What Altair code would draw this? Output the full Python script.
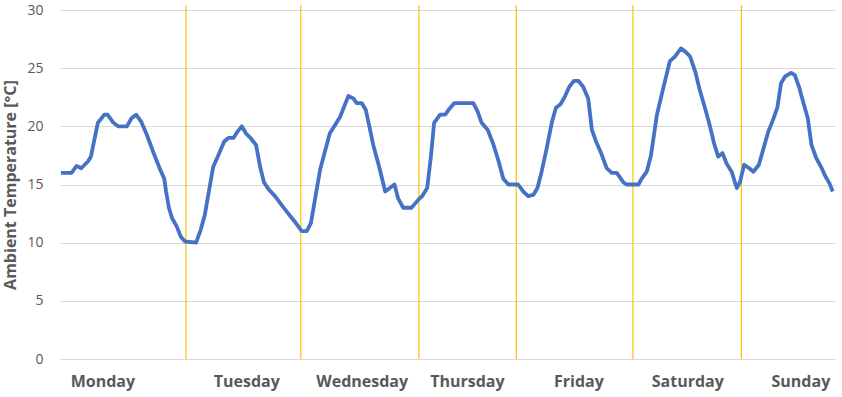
import altair as alt
import pandas as pd

# hour of week (0-168) and ambient temperature
hours = [0.2, 2.5, 3.6, 4.6, 6.1, 6.7, 8.2, 9.6, 10.3, 11.6, 12.6, 14.5, 15.5, 16.5, 17.6, 18.8,
         20.2, 21.7, 22.6, 23.0, 23.6, 24.3, 25.3, 26.2, 27.1, 29.5, 30.5, 31.4, 32.4, 33.2,
         34.3, 35.6, 36.5, 37.6, 38.4, 39.4, 40.3, 41.3, 42.5, 43.4, 44.2, 45.2, 46.6, 48.1,
         49.5, 50.9, 52.4, 53.5, 54.4, 55.4, 56.4, 57.4, 58.5, 59.6, 60.7, 61.6, 62.5, 63.6,
         64.3, 65.4, 66.3, 67.0, 67.9, 69.2, 70.5, 71.5, 72.5, 73.3, 74.4, 76.2, 77.7, 78.5,
         79.6, 80.4, 81.1, 82.4, 83.5, 84.2, 85.5, 89.6, 90.5, 91.4, 92.7, 93.9, 95.0, 96.1,
         97.2, 99.3, 100.4, 101.5, 102.6, 103.5, 104.4, 105.5, 106.6, 107.5, 108.5, 109.5,
         110.4, 111.4, 112.4, 113.4, 114.5, 115.3, 116.2, 117.2, 118.5, 119.6, 120.7, 122.1,
         122.8, 125.4, 126.1, 127.2, 128.1, 129.4, 130.6, 132.2, 133.3, 134.6, 135.6, 136.6,
         137.7, 138.7, 139.8, 140.9, 141.8, 142.7, 143.6, 144.5, 145.6, 146.7, 147.4, 148.3,
         149.4, 150.3, 151.5, 152.5, 153.5, 154.6, 155.5, 156.3, 157.2, 158.5, 159.3, 160.2,
         161.1, 162.1, 162.9, 163.9, 165.0, 165.8, 166.8, 167.5]
temps = [16.0, 16.0, 16.6, 16.4, 17.0, 17.4, 20.3, 21.0, 21.0, 20.3, 20.0, 20.0, 20.7, 21.0, 20.4, 19.3,
         17.8, 16.3, 15.5, 14.4, 13.0, 12.1, 11.4, 10.5, 10.1, 10.0, 11.1, 12.4, 14.7, 16.5,
         17.5, 18.7, 19.0, 19.0, 19.5, 20.0, 19.4, 19.0, 18.4, 16.5, 15.2, 14.6, 14.0, 13.2,
         12.5, 11.8, 11.0, 11.0, 11.7, 14.0, 16.3, 17.8, 19.4, 20.1, 20.8, 21.7, 22.6, 22.4,
         22.0, 22.0, 21.4, 20.1, 18.4, 16.5, 14.4, 14.7, 15.0, 13.8, 13.0, 13.0, 13.7, 14.0,
         14.7, 17.4, 20.3, 21.0, 21.0, 21.4, 22.0, 22.0, 21.3, 20.3, 19.7, 18.5, 17.1, 15.5,
         15.0, 15.0, 14.4, 14.0, 14.1, 14.7, 16.1, 18.1, 20.3, 21.6, 21.9, 22.6,
         23.4, 23.9, 23.9, 23.4, 22.4, 19.7, 18.7, 17.8, 16.4, 16.0, 16.0, 15.2,
         15.0, 15.0, 15.5, 16.1, 17.5, 21.0, 23.0, 25.6, 26.0, 26.7, 26.4, 26.0,
         24.7, 23.1, 21.6, 20.0, 18.5, 17.4, 17.7, 16.8, 16.1, 14.7, 15.2, 16.7,
         16.4, 16.1, 16.7, 18.1, 19.5, 20.6, 21.6, 23.7, 24.3, 24.6, 24.4, 23.4,
         22.1, 20.7, 18.4, 17.3, 16.5, 15.8, 15.1, 14.4]

day_names = ["Monday", "Tuesday", "Wednesday", "Thursday", "Friday", "Saturday", "Sunday"]
day_label_pos = [9.3, 40.5, 65.5, 88.3, 112.5, 136.1, 160.6]
separators = [27.3, 52.2, 77.8, 98.9, 124.2, 147.7]

line_df = pd.DataFrame({"hour": hours, "temp": temps})
day_df = pd.DataFrame({"hour": day_label_pos, "day": day_names})
sep_df = pd.DataFrame({"hour": separators})

FONT = "Open Sans"
GRAY = "#595959"
W, H = 775, 349

xscale = alt.Scale(domain=[0, 168], nice=False, zero=False)

line = alt.Chart(line_df).mark_line(color="#4472C4", strokeWidth=3.8, strokeJoin="round").encode(
    x=alt.X("hour:Q", scale=xscale, axis=None),
    y=alt.Y("temp:Q", scale=alt.Scale(domain=[0, 30], nice=False),
            axis=alt.Axis(values=[0, 5, 10, 15, 20, 25, 30], grid=True, gridColor="#D9D9D9",
                          gridWidth=1, domain=False, ticks=False, labelPadding=17,
                          labelFont=FONT, labelFontSize=14, labelColor=GRAY,
                          title="Ambient Temperature [°C]", titleFont=FONT, titleFontSize=16,
                          titleFontWeight="bold", titleColor=GRAY, titlePadding=8)),
)

rules = alt.Chart(sep_df).mark_rule(color="#FFC000", strokeWidth=1.2).encode(
    x=alt.X("hour:Q", scale=xscale, axis=None),
    y=alt.value(-5),
    y2=alt.value(H),
)

labels = alt.Chart(day_df).mark_text(font=FONT, fontSize=16, fontWeight="bold", color=GRAY,
                                     baseline="middle", align="center").encode(
    x=alt.X("hour:Q", scale=xscale, axis=None),
    text="day:N",
    y=alt.value(H + 23),
)

chart = alt.layer(rules, line, labels).properties(
    width=W, height=H,
    autosize=alt.AutoSizeParams(type="none"),
    padding={"left": 60, "top": 10, "right": 7, "bottom": 38},
    background="white",
).configure_view(stroke=None)

chart.save("out.html", embed_options={"renderer": "svg", "actions": False})
